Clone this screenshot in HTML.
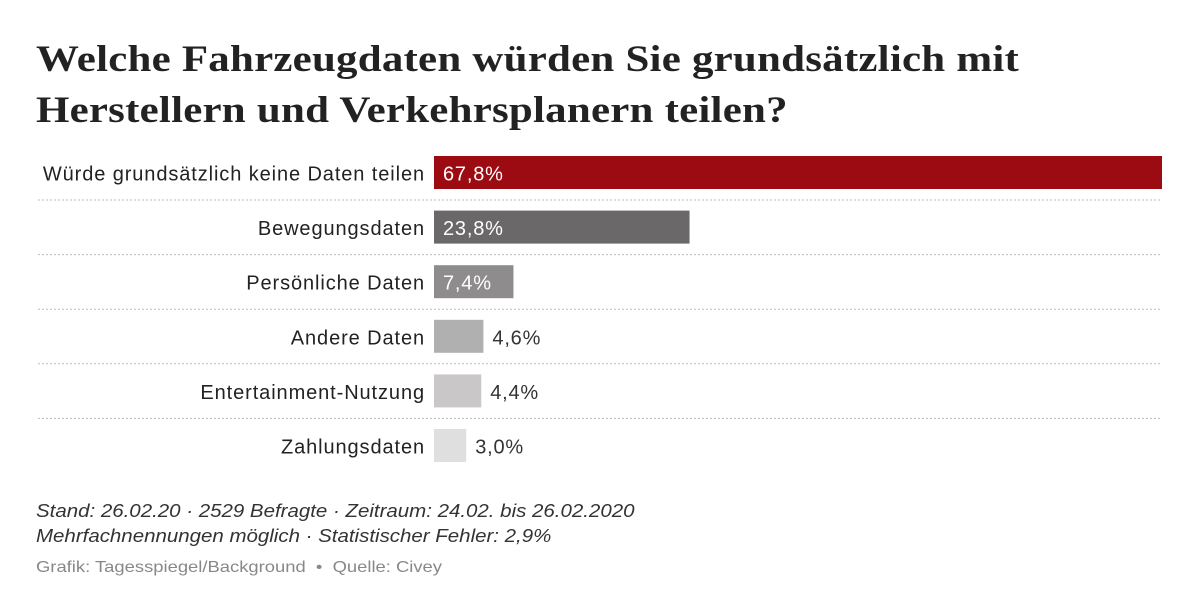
<!DOCTYPE html>
<html><head><meta charset="utf-8">
<style>
body{margin:0;width:1200px;height:616px;background:#fff;overflow:hidden;font-family:"Liberation Sans",sans-serif;}
#title{position:absolute;left:36px;top:34px;font-family:"Liberation Serif",serif;font-weight:bold;font-size:37px;line-height:51px;color:#222;margin:0;letter-spacing:0.2px;transform:scaleX(1.16);transform-origin:0 0;white-space:nowrap}
.foot{position:absolute;left:36px;font-style:italic;font-size:18px;color:#333;transform:scaleX(1.137);transform-origin:0 0;white-space:nowrap}
#src{position:absolute;left:36px;top:559px;font-size:16px;color:#888;transform:scaleX(1.15);transform-origin:0 0;white-space:nowrap}
</style></head><body>
<h1 id="title">Welche Fahrzeugdaten würden Sie grundsätzlich mit<br>Herstellern und Verkehrsplanern teilen?</h1>
<svg id="chart" width="1200" height="616" style="position:absolute;left:0;top:0"></svg>
<div class="foot" style="top:501px">Stand: 26.02.20 · 2529 Befragte · Zeitraum: 24.02. bis 26.02.2020</div>
<div class="foot" style="top:526px">Mehrfachnennungen möglich · Statistischer Fehler: 2,9%</div>
<div id="src">Grafik: Tagesspiegel/Background &nbsp;•&nbsp; Quelle: Civey</div>
<script>
const categories=["Würde grundsätzlich keine Daten teilen","Bewegungsdaten","Persönliche Daten","Andere Daten","Entertainment-Nutzung","Zahlungsdaten"];
const values=[67.8,23.8,7.4,4.6,4.4,3.0];
const labels=["67,8%","23,8%","7,4%","4,6%","4,4%","3,0%"];
const colors=["#9c0a12","#6b6869","#8e8c8d","#b1b0b0","#c9c7c8","#e0dfdf"];
const ns="http://www.w3.org/2000/svg";
const svg=document.getElementById('chart');
const x0=434,x1=1162,maxV=67.8,top0=156,pitch=54.6,bh=33;
const xs=v=>v/maxV*(x1-x0);
function mk(t,a){const e=document.createElementNS(ns,t);for(const k in a)e.setAttribute(k,a[k]);svg.appendChild(e);return e;}
values.forEach((v,i)=>{
  const y=top0+i*pitch,w=xs(v);
  const r=mk('rect',{x:x0,y:y,width:w,height:bh,fill:colors[i]});
  
  
  const c=mk('text',{x:425,y:y+bh/2+8,'text-anchor':'end','font-size':'20',fill:'#222','letter-spacing':'0.9'});
  c.textContent=categories[i];
  
  
  const inside=w>60;
  const t=mk('text',{x:inside?x0+9:x0+w+9,y:y+bh/2+8,'font-size':'20',fill:inside?'#fff':'#333','letter-spacing':'0.8'});
  t.textContent=labels[i];
  
  
  if(i<values.length-1){
    const l=mk('line',{x1:38,x2:1162,y1:y+bh+11,y2:y+bh+11,stroke:'#bbb','stroke-width':1,'stroke-dasharray':'2,2'});
    
    
  }
});
</script>
</body></html>
